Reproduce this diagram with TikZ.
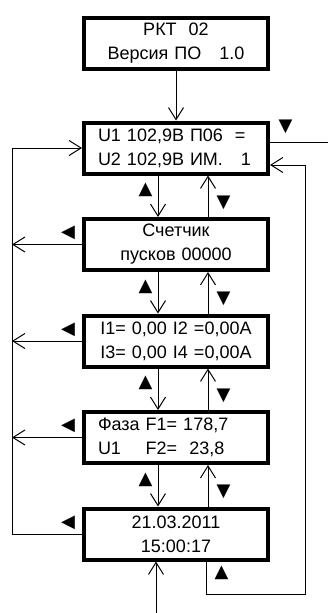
\documentclass[tikz,border=0pt]{standalone}
\usepackage{fontspec}
\setmainfont{Liberation Sans}
\newfontfamily\symfont{DejaVu Sans}
\usetikzlibrary{positioning,arrows.meta}
\tikzset{
  box/.style={draw, line width=4pt, minimum width=184pt, minimum height=51pt,
    text width=156pt, inner xsep=14pt, inner ysep=2pt, align=center,
    font=\fontsize{18}{24}\selectfont},
  arr/.style={line width=1pt, -{Straight Barb[length=12pt,width=15pt]}},
  wire/.style={line width=1pt},
  key/.style={font=\symfont\fontsize{18}{18}\selectfont, inner sep=0pt},
}
\begin{document}
\begin{tikzpicture}[x=1pt, y=-1pt, node distance=41.5pt]
\useasboundingbox (0,0) rectangle (328,613);
\node (b1) [box] at (176,43) {РКТ~~02\\Версия ПО~~~1.0};
\node (b2) [box, align=left, below=50pt of b1] {\mbox{U1 102,9В П06~~=}\\\mbox{U2 102,9В ИМ.~~~1}};
\node (b3) [box, below=of b2] {Счетчик\\пусков 00000};
\node (b4) [box, below=of b3] {I1= 0,00 I2 =0,00А\\I3= 0,00 I4 =0,00А};
\node (b5) [box, align=left, below=of b4] {Фаза F1= 178,7\\\makebox[0pt][l]{U1}\phantom{Фаза }F2=~~23,8};
\node (b6) [box, below=of b5] {21.03.2011\\15:00:17};
\coordinate (lx) at (12,0);
\coordinate (rx) at (328,0);
\coordinate (rl) at (305,0);
\coordinate (by) at (0,594);
\coordinate (bin) at (156,613);
% main column
\draw[arr] (b1) -- (b2);
\foreach \a/\b in {b2/b3,b3/b4,b4/b5,b5/b6} {
  \draw[arr] ([xshift=-18pt]\a.south) -- ([xshift=-18pt]\b.north) node[key, pos=0.35, left=5pt] {▲};
  \draw[arr] ([xshift=32pt]\b.north) -- ([xshift=32pt]\a.south) node[key, pos=0.35, right=8pt] {▼};
}
\draw[arr] (bin) -- (bin |- b6.south);
% left loop
\foreach \n in {b3,b4,b5}
  \draw[arr] (\n.west) -- (\n.west -| lx) node[key, pos=0.2, above=4pt] {◀};
\draw[arr] (b6.west) -- (b6.west -| lx) node[key, pos=0.2, above=4pt] {◀}
  -- (b2.west -| lx) -- (b2.west);
% right loop
\draw[wire] ([yshift=6pt]b2.east) -- ([yshift=6pt]b2.east -| rx) node[key, pos=0.27, above=8pt] {▼};
\draw[arr] ([xshift=30pt]b6.south) -- ([xshift=30pt]b6.south |- by) node[key, pos=0.35, right=8pt] {▲}
  -| ([yshift=-17pt]b2.east -| rl) -- ([yshift=-17pt]b2.east);
\end{tikzpicture}
\end{document}
